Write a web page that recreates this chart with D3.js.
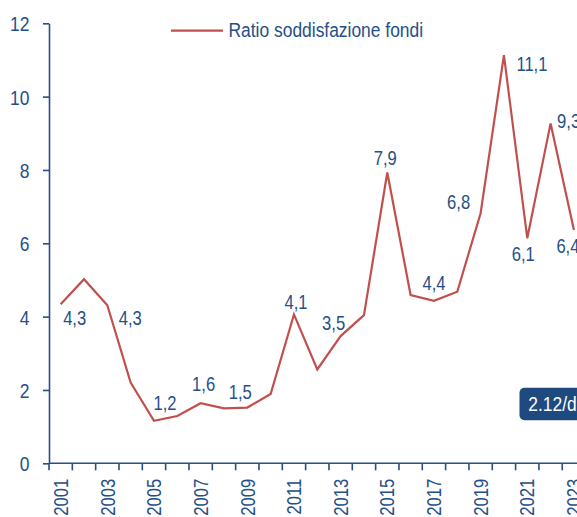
<!DOCTYPE html>
<html>
  <head>
    <meta charset="utf-8">
    <title>Ratio soddisfazione fondi</title>
    <script src="https://d3js.org/d3.v7.min.js"></script>
    <style>
      body { margin: 0; background: #fff; }
      text { font-family: "Liberation Sans", Arial, sans-serif; }
    </style>
  </head>
  <body>
  </body>
</html>

<script>
  // data
  var years = [2001, 2002, 2003, 2004, 2005, 2006, 2007, 2008, 2009, 2010, 2011, 2012,
               2013, 2014, 2015, 2016, 2017, 2018, 2019, 2020, 2021, 2022, 2023];
  var ratio = [4.34, 5.02, 4.31, 2.20, 1.16, 1.29, 1.64, 1.50, 1.52, 1.89, 4.06, 2.56,
               3.47, 4.04, 7.93, 4.59, 4.43, 4.68, 6.82, 11.13, 6.14, 9.27, 6.36];
  var labelledYears = [2001, 2003, 2005, 2007, 2009, 2011, 2013, 2015, 2017, 2019, 2020, 2021, 2022, 2023];
  var xTickLabels = [2001, 2003, 2005, 2007, 2009, 2011, 2013, 2015, 2017, 2019, 2021, 2023];
  var yTicks = [0, 2, 4, 6, 8, 10, 12];
  var seriesName = "Ratio soddisfazione fondi";
  var boxText = "2.12/dic";

  // where each value label sits relative to its point (dx, dy of baseline centre)
  var labelOffset = {
    2001: [14, 21], 2003: [23, 20], 2005: [11, -11], 2007: [3, -12], 2009: [-7, -9],
    2011: [2, -5], 2013: [-7, -6], 2015: [-2, -8], 2017: [0, -11], 2019: [-22, -4],
    2020: [28, 16], 2021: [-4, 23], 2022: [18, 5], 2023: [-6, 23]
  };

  var blue = "#254f88", red = "#c0504d";
  var sx = 0.83; // narrow type

  var width = 577, height = 517;
  var svg = d3.select("body").append("svg")
              .attr("width", width)
              .attr("height", height);

  var x = d3.scaleBand()
            .domain(years)
            .range([49, 49 + years.length * 23.33])
            .padding(0);

  var y = d3.scaleLinear()
            .domain([0, 12])
            .range([463.3, 23.3]);

  var it = d3.formatLocale({decimal: ",", thousands: ".", grouping: [3], currency: ["", "€"]});
  var fmt = it.format(".1f");

  // y axis
  var yAxis = svg.append("g")
                 .attr("transform", "translate(49,0)")
                 .call(d3.axisLeft(y).tickValues(yTicks).tickSize(6).tickSizeOuter(0).tickFormat(d3.format("d")));
  yAxis.select(".domain").attr("stroke", blue).attr("stroke-width", 1.6);
  yAxis.selectAll(".tick line").attr("stroke", blue).attr("stroke-width", 1.6);
  yAxis.selectAll(".tick text")
       .attr("x", null).attr("dy", null)
       .attr("transform", "translate(-19.5,7.5) scale(" + sx + ",1)")
       .attr("text-anchor", "end")
       .attr("fill", blue)
       .style("font-size", "21px")
       .style("font-family", '"Liberation Sans", Arial, sans-serif');

  // x axis: line, ticks on band edges, labels on odd years
  var xAxis = svg.append("g");
  xAxis.append("line")
       .attr("x1", 49).attr("x2", width)
       .attr("y1", y(0)).attr("y2", y(0))
       .attr("stroke", blue).attr("stroke-width", 1.6);
  xAxis.selectAll("line.tk")
       .data(years)
       .enter()
       .append("line")
       .attr("class", "tk")
       .attr("x1", function(d) { return x(d); })
       .attr("x2", function(d) { return x(d); })
       .attr("y1", y(0))
       .attr("y2", y(0) + 7)
       .attr("stroke", blue).attr("stroke-width", 1.6);
  xAxis.selectAll("text")
       .data(xTickLabels)
       .enter()
       .append("text")
       .attr("transform", function(d) {
         return "translate(" + (x(d) + x.bandwidth() / 2 + 7.2) + "," + (y(0) + 15.5) + ") rotate(-90) scale(" + sx + ",1)";
       })
       .attr("text-anchor", "end")
       .attr("fill", blue)
       .style("font-size", "20px")
       .text(function(d) { return d; });

  // line
  var pts = years.map(function(d, i) { return {year: d, v: ratio[i]}; });
  var line = d3.line()
               .x(function(d) { return x(d.year) + x.bandwidth() / 2; })
               .y(function(d) { return y(d.v); });
  svg.append("path")
     .datum(pts)
     .attr("d", line)
     .attr("fill", "none")
     .attr("stroke", red)
     .attr("stroke-width", 2.2)
     .attr("stroke-linejoin", "miter");

  // value labels
  svg.selectAll("text.val")
     .data(pts.filter(function(d) { return labelledYears.indexOf(d.year) >= 0; }))
     .enter()
     .append("text")
     .attr("class", "val")
     .attr("transform", function(d) {
       var o = labelOffset[d.year];
       return "translate(" + (x(d.year) + x.bandwidth() / 2 + o[0]) + "," + (y(d.v) + o[1]) + ") scale(" + sx + ",1)";
     })
     .attr("text-anchor", "middle")
     .attr("fill", blue)
     .style("font-size", "20px")
     .text(function(d) { return fmt(d.v); });

  // legend
  svg.append("line")
     .attr("x1", 171).attr("x2", 223)
     .attr("y1", 30.7).attr("y2", 30.7)
     .attr("stroke", red).attr("stroke-width", 2.2);
  svg.append("text")
     .attr("transform", "translate(228.5,36.8) scale(" + sx + ",1)")
     .attr("fill", blue)
     .style("font-size", "21px")
     .text(seriesName);

  // date box
  svg.append("rect")
     .attr("x", 519.5).attr("y", 387.7)
     .attr("width", 90).attr("height", 32.5)
     .attr("rx", 5)
     .attr("fill", "#1f4a80");
  svg.append("text")
     .attr("transform", "translate(528.3,410.5) scale(" + sx + ",1)")
     .attr("fill", "#fff")
     .style("font-size", "21px")
     .text(boxText);
</script>
